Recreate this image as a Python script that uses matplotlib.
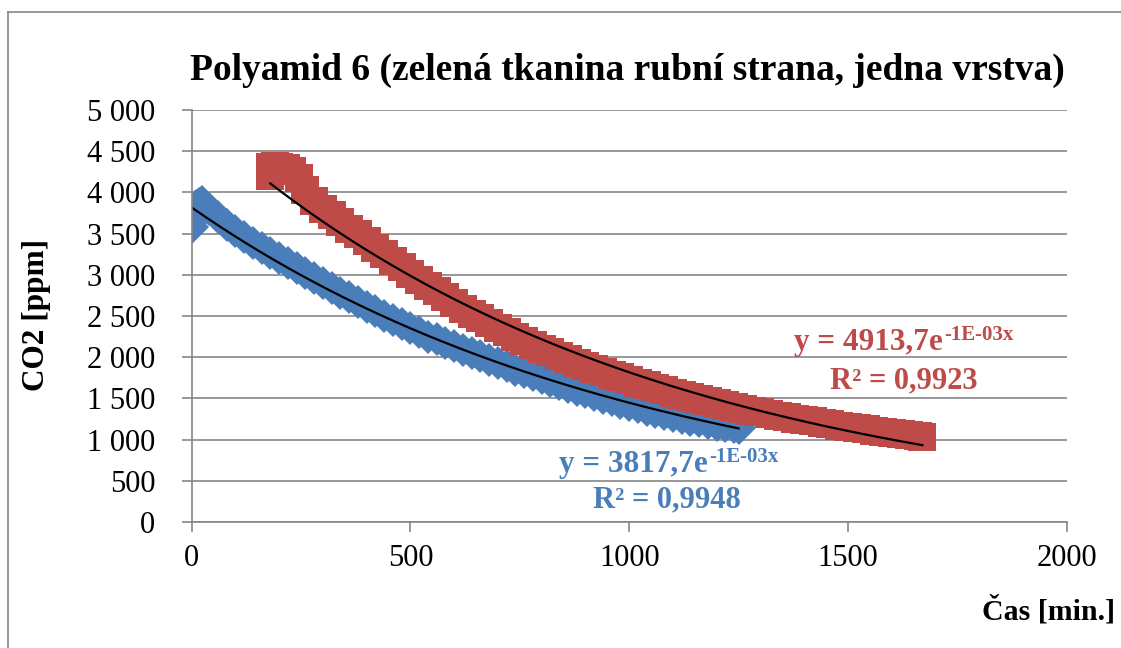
import matplotlib
matplotlib.use("Agg")
import matplotlib.pyplot as plt
import numpy as np
from matplotlib.ticker import FuncFormatter, MultipleLocator
from matplotlib.lines import Line2D

plt.rcParams['font.family'] = ['Liberation Serif', 'DejaVu Serif']

# CO2 concentration over time, first run (blue) and second run (red)
blue_x = [0, 2, 4, 6, 10, 16, 24, 40, 60, 80, 100, 120, 140, 160, 180, 200,
          220, 240, 260, 280, 300, 320, 340, 360, 380, 400, 420, 440, 460, 480,
          500, 520, 540, 560, 580, 600, 620, 640, 660, 680, 700, 720, 740, 760,
          780, 800, 820, 840, 860, 880, 900, 920, 940, 960, 980, 1000, 1020,
          1040, 1060, 1080, 1100, 1120, 1140, 1160, 1180, 1200, 1220, 1240, 1250]
blue_y = [3580, 3650, 3720, 3780, 3830, 3860, 3880, 3800, 3700, 3610, 3530,
          3460, 3390, 3320, 3260, 3200, 3140, 3080, 3020, 2960, 2900, 2840,
          2785, 2725, 2670, 2615, 2560, 2505, 2450, 2400, 2350, 2300, 2250,
          2215, 2170, 2130, 2090, 2050, 2010, 1970, 1930, 1890, 1850, 1815,
          1780, 1745, 1710, 1675, 1640, 1605, 1575, 1545, 1510, 1480, 1450,
          1420, 1395, 1365, 1340, 1315, 1290, 1265, 1240, 1220, 1200, 1180,
          1165, 1150, 1140]

red_x = [180, 180, 180, 190, 200, 215, 230, 245, 260, 280, 300, 320, 340, 360,
         380, 400, 420, 440, 460, 480, 500, 520, 540, 560, 580, 600, 620, 640,
         660, 680, 700, 720, 740, 760, 780, 800, 820, 840, 860, 880, 900, 920,
         940, 960, 980, 1000, 1020, 1040, 1060, 1080, 1100, 1120, 1140, 1160,
         1180, 1200, 1220, 1240, 1260, 1280, 1300, 1320, 1340, 1360, 1380,
         1400, 1420, 1440, 1460, 1480, 1500, 1520, 1540, 1560, 1580, 1600,
         1620, 1640, 1660, 1670]
red_y = [4200, 4250, 4310, 4320, 4310, 4300, 4260, 4170, 4030, 3900, 3800,
         3720, 3640, 3560, 3490, 3410, 3330, 3250, 3170, 3090, 3010, 2940,
         2870, 2800, 2730, 2660, 2590, 2530, 2470, 2410, 2350, 2300, 2250,
         2200, 2150, 2105, 2060, 2015, 1975, 1935, 1895, 1860, 1825, 1790,
         1755, 1720, 1690, 1660, 1630, 1600, 1570, 1545, 1515, 1490, 1465,
         1440, 1415, 1395, 1370, 1350, 1330, 1310, 1290, 1270, 1255, 1235,
         1220, 1200, 1185, 1170, 1155, 1140, 1125, 1110, 1095, 1080, 1070,
         1055, 1045, 1030]

# exponential trendlines y = a*exp(k*x)
blue_a, blue_k, blue_r2 = 3817.7, -0.00097, 0.9948
red_a, red_k, red_r2 = 4913.7, -0.000995, 0.9923

blue_c = '#4A7EBB'
red_c = '#BE4B48'
grid_c = '#868686'

W, H = 1121, 648
fig = plt.figure(figsize=(W / 100, H / 100), dpi=100)
ax = fig.add_axes([191.6 / W, 1 - 522 / H, (1066.8 - 191.6) / W, (522 - 110) / H])

ax.plot(blue_x, blue_y, linestyle='none', marker='D', markersize=17,
        color=blue_c, markeredgewidth=0)
ax.plot(red_x, red_y, linestyle='none', marker='s', markersize=20,
        color=red_c, markeredgewidth=0)

for xs, a, k in [(blue_x, blue_a, blue_k), (red_x, red_a, red_k)]:
    tx = np.linspace(min(xs), max(xs), 200)
    ax.plot(tx, a * np.exp(k * tx), color='black', lw=1.6)

ax.set_xlim(0, 2000)
ax.set_ylim(0, 5000)
ax.xaxis.set_major_locator(MultipleLocator(500))
ax.yaxis.set_major_locator(MultipleLocator(500))
ax.yaxis.set_major_formatter(FuncFormatter(lambda v, p: f"{int(v):,}".replace(",", " ")))
ax.grid(axis='y', color=grid_c, lw=1.2)
ax.set_axisbelow(True)
for s in ['top', 'right']:
    ax.spines[s].set_visible(False)
for s in ['left', 'bottom']:
    ax.spines[s].set_color(grid_c)
    ax.spines[s].set_linewidth(1.2)
ax.tick_params(axis='both', colors=grid_c, labelcolor='black', labelsize=22,
               length=7, width=1.2)
ax.tick_params(axis='y', pad=19)
ax.tick_params(axis='x', pad=9)

# titles and axis labels
fig.text(627 / W, 1 - 70 / H, 'Polyamid 6 (zelená tkanina rubní strana, jedna vrstva)',
         ha='center', va='center', fontsize=27, fontweight='bold')
fig.text(37 / W, 1 - 315 / H, 'CO2 [ppm]', rotation=90, ha='center', va='center',
         fontsize=22.5, fontweight='bold')
fig.text(1115 / W, 1 - 611 / H, 'Čas [min.]', ha='right', va='center',
         fontsize=21.5, fontweight='bold')


def trend_label(a, k, r2, color, x_e, y_base, x_r2, y_r2):
    fig.text(x_e / W, 1 - y_base / H, f"y = {a:.1f}".replace('.', ',') + "e",
             ha='right', va='baseline', fontsize=22.5, fontweight='bold', color=color)
    fig.text((x_e + 1) / W, 1 - (y_base - 10) / H, f"{k:.0E}x",
             ha='left', va='baseline', fontsize=15, fontweight='bold', color=color)
    fig.text(x_r2 / W, 1 - y_r2 / H, f"R² = {r2:.4f}".replace('.', ','),
             ha='center', va='baseline', fontsize=22, fontweight='bold', color=color)


trend_label(blue_a, blue_k, blue_r2, blue_c, 708, 472, 667, 507)
trend_label(red_a, red_k, red_r2, red_c, 943, 350, 904, 388)

# chart area border
fig.add_artist(Line2D([8 / W, 1], [1 - 12 / H, 1 - 12 / H], color=grid_c, lw=1.2))
fig.add_artist(Line2D([8 / W, 8 / W], [0, 1 - 12 / H], color=grid_c, lw=1.2))

fig.savefig('out.png', dpi=100)
